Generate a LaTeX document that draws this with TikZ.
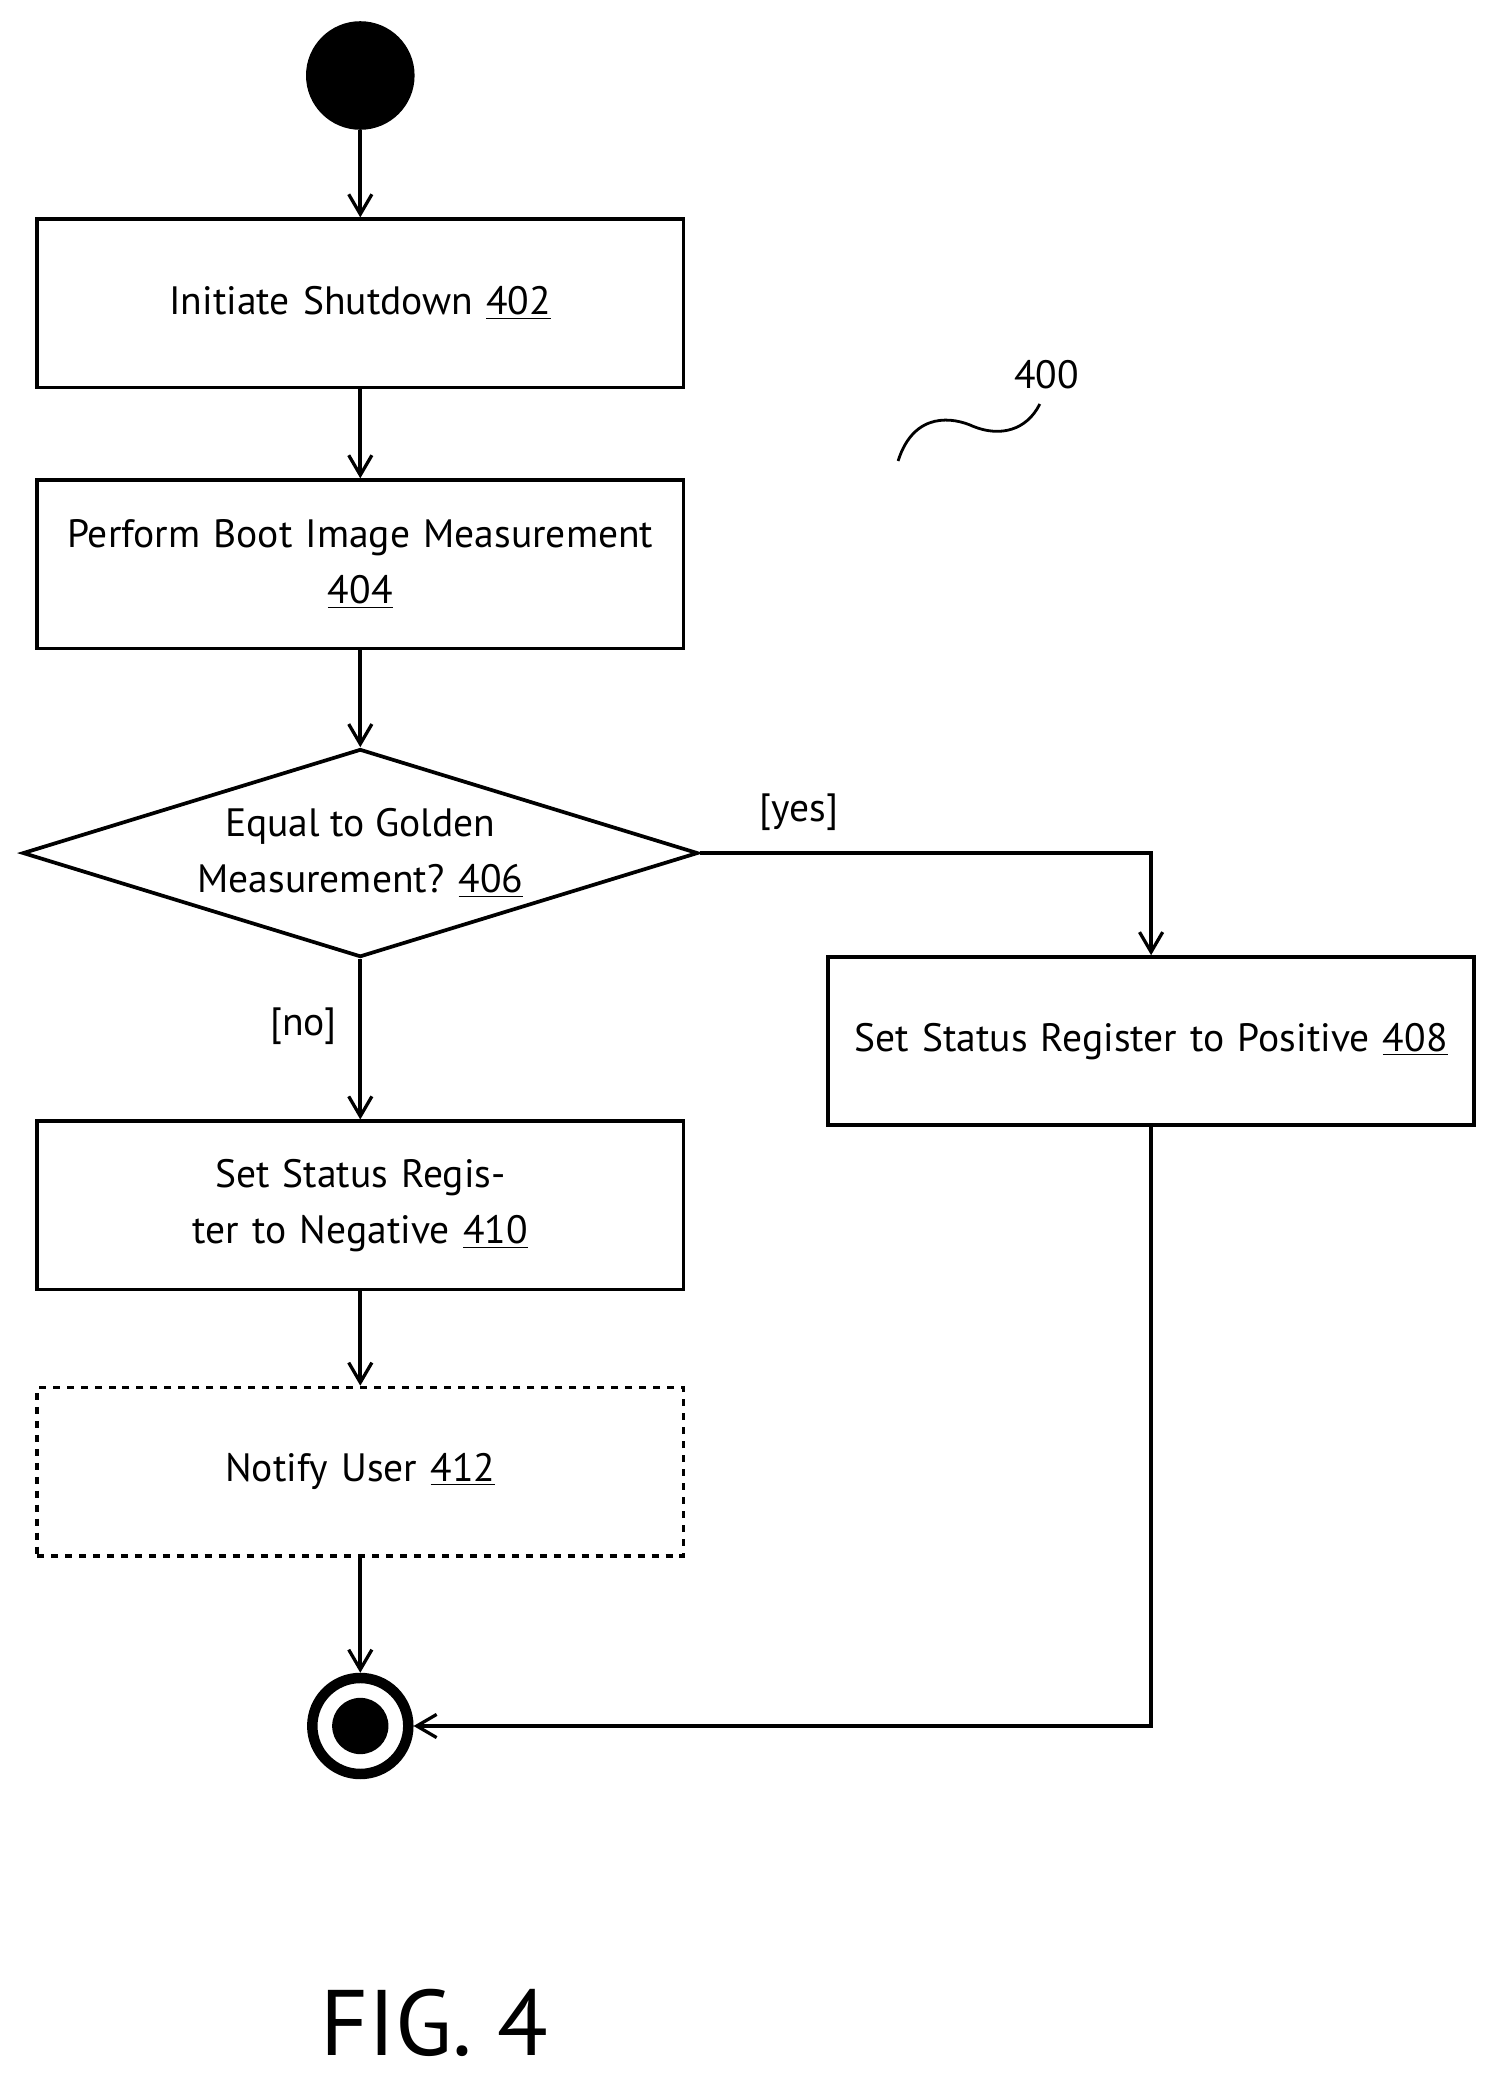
\documentclass[tikz,border=0pt]{standalone}
\usepackage{fontspec}
\setmainfont{PT Sans}
\usetikzlibrary{shapes.geometric,arrows.meta}
\begin{document}
\begin{tikzpicture}[x=0.02cm, y=-0.02cm,
    every node/.style={font=\fontsize{17}{24}\selectfont},
    action/.style={draw, line width=1.6pt, minimum width=9.76cm, minimum height=2.54cm, align=center, text width=9cm},
    flow/.style={line width=1.6pt, -{Straight Barb[length=3mm, width=3.5mm, line width=1.4pt]}}]
    \useasboundingbox (0,0) rectangle (1133,1568);

    \node [circle, fill=black, minimum size=1.64cm, inner sep=0pt] at (272, 57) (start) {};
    \node [action] at (272, 229) (402) {Initiate Shutdown \underline{402}};
    \node [action] at (272, 426) (404) {Perform Boot Image Measurement\\\underline{404}};
    \node [diamond, draw, line width=1.6pt, aspect=2.74, minimum width=10.2cm, inner sep=0pt, align=center] at (272, 644) (406) {Equal to Golden\\Measurement? \underline{406}};
    \node [action] at (869, 786) (408) {Set Status Register to Positive \underline{408}};
    \node [action] at (272, 910) (410) {Set Status Register to Negative \underline{410}};
    \node [action, dashed] at (272, 1111) (412) {Notify User \underline{412}};
    \node [circle, draw, line width=4.5pt, minimum size=1.45cm, inner sep=0pt] at (272, 1303) (end) {};
    \node [circle, fill=black, minimum size=0.85cm, inner sep=0pt] at (272, 1303) (endin) {};

    \draw [flow] (start) -- (402);
    \draw [flow] (402) -- (404);
    \draw [flow] (404) -- (406.north);
    \draw [flow] (406.east) -| (408.north);
    \draw [flow] (406.south) -- (410);
    \draw [flow] (410) -- (412);
    \draw [flow] (412) -- (end);
    \draw [flow] (408.south) |- (end.east);

    \node at (603, 613) (yes) {[yes]};
    \node at (229, 775) (no) {[no]};

    % reference numeral
    \node at (790, 283) (400) {400};
    \draw [line width=1.2pt] (678, 348) .. controls (690, 310) and (720, 315) .. (735, 322) .. controls (755, 330) and (775, 325) .. (785, 305);

    \node [font=\fontsize{40}{48}\selectfont] at (328, 1527) (fig) {FIG. 4};
\end{tikzpicture}
\end{document}
